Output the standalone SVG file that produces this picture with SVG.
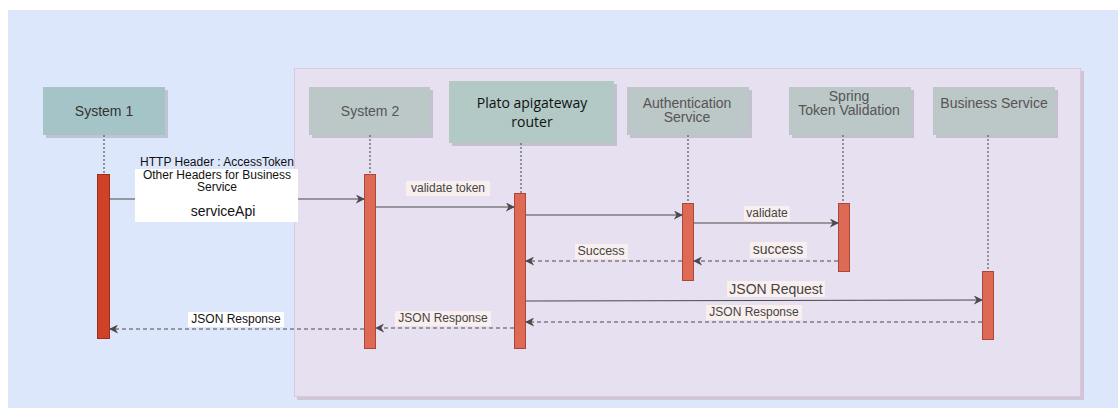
<svg xmlns="http://www.w3.org/2000/svg" width="1118" height="408" viewBox="0 0 1118 408">
<defs>
<style>
.shadow{fill:#9a9aa6;opacity:0.45}
.atext{font-family:"Liberation Sans",Arial,sans-serif;font-size:14px;fill:#555;text-anchor:middle}
.ptext{font-family:"Open Sans","Liberation Sans",sans-serif;font-size:14px;fill:#111;text-anchor:middle}
.life{stroke:#666;stroke-width:1.3;stroke-dasharray:2,2;fill:none}
.act{fill:#de6a56;stroke:#a8473a;stroke-width:1}
.msg{stroke:#4a4a4a;stroke-width:1.2;fill:none}
.ret{stroke:#4a4a4a;stroke-width:1.2;fill:none;stroke-dasharray:4,3}
.lbl{font-family:"Liberation Sans",Arial,sans-serif;font-size:12px;fill:#444;text-anchor:middle}
.lblbg{fill:#f9efee}
.ltext{font-family:"Liberation Sans",Arial,sans-serif;font-size:12px;fill:#111;text-anchor:middle}
</style>
<marker id="arr" viewBox="0 0 10 10" refX="9" refY="5" markerWidth="9" markerHeight="9" markerUnits="userSpaceOnUse" orient="auto">
<path d="M0,0 L10,5 L0,10 L3,5 Z" fill="#4a4a4a"/>
</marker>
</defs>
<rect x="0" y="0" width="1118" height="408" fill="#ffffff"/>
<rect x="8" y="10" width="1110" height="398" fill="#dce7fc"/>
<rect x="297" y="71" width="787" height="329" fill="#cfc4d8"/>
<rect x="294.5" y="68.5" width="786" height="328" fill="#e6e0f1" stroke="#dcc8dc" stroke-width="1"/>

<g id="system1">
<rect class="shadow" x="46" y="90" width="122" height="48"/>
<rect x="43" y="87" width="122" height="48" fill="#a4c4c8"/>
<text class="atext" x="104" y="116" style="fill:#333">System 1</text>
</g>
<g id="system2">
<rect class="shadow" x="312" y="90" width="121" height="48"/>
<rect x="309" y="87" width="121" height="48" fill="#bcc7c7"/>
<text class="atext" x="370" y="116">System 2</text>
</g>
<g id="plato">
<rect class="shadow" x="452" y="84" width="165" height="62"/>
<rect x="449" y="81" width="165" height="62" fill="#b2c9c6"/>
<text class="ptext" x="532" y="108">Plato apigateway</text>
<text class="ptext" x="532" y="127">router</text>
</g>
<g id="auth">
<rect class="shadow" x="630" y="90" width="122" height="48"/>
<rect x="627" y="87" width="122" height="48" fill="#bcc7c7"/>
<text class="atext" x="687" y="108">Authentication</text>
<text class="atext" x="687" y="122">Service</text>
</g>
<g id="spring">
<rect class="shadow" x="792" y="90" width="122" height="48"/>
<rect x="789" y="87" width="122" height="48" fill="#bcc7c7"/>
<text class="atext" x="849" y="101">Spring</text>
<text class="atext" x="849" y="115">Token Validation</text>
</g>
<g id="business">
<rect class="shadow" x="936" y="90" width="122" height="48"/>
<rect x="933" y="87" width="122" height="48" fill="#bcc7c7"/>
<text class="atext" x="994" y="108">Business Service</text>
</g>

<g id="lifelines">
<line class="life" x1="104" y1="135" x2="104" y2="174"/>
<line class="life" x1="370" y1="135" x2="370" y2="174"/>
<line class="life" x1="521" y1="143" x2="521" y2="193"/>
<line class="life" x1="688" y1="135" x2="688" y2="203"/>
<line class="life" x1="843" y1="135" x2="843" y2="203"/>
<line class="life" x1="988" y1="135" x2="988" y2="271"/>
</g>

<g id="activations">
<rect x="97.5" y="174.5" width="12" height="164" fill="#cf4227" stroke="#9a2f1c"/>
<rect class="act" x="364.5" y="174.5" width="11" height="174"/>
<rect class="act" x="514.5" y="193.5" width="11" height="155"/>
<rect class="act" x="682.5" y="203.5" width="11" height="77"/>
<rect class="act" x="838.5" y="203.5" width="11" height="68"/>
<rect class="act" x="982.5" y="271.5" width="11" height="68"/>
</g>

<g id="connectors">
<line class="msg" x1="110" y1="199" x2="364" y2="199" marker-end="url(#arr)"/>
<rect x="135" y="169" width="163" height="53" fill="#ffffff"/>
<text class="ltext" x="217" y="166">HTTP Header : AccessToken</text>
<text class="ltext" x="217" y="179">Other Headers for Business</text>
<text class="ltext" x="217" y="191">Service</text>
<text class="ltext" x="223" y="216" style="font-size:14px">serviceApi</text>

<line class="msg" x1="376" y1="207" x2="514" y2="207" marker-end="url(#arr)"/>
<rect class="lblbg" x="406" y="181" width="84" height="15"/>
<text class="lbl" x="448" y="192">validate token</text>

<line class="msg" x1="526" y1="215" x2="682" y2="215" marker-end="url(#arr)"/>

<line class="msg" x1="694" y1="223" x2="838" y2="223" marker-end="url(#arr)"/>
<rect class="lblbg" x="744" y="206" width="46" height="15"/>
<text class="lbl" x="767" y="217">validate</text>

<line class="ret" x1="838" y1="261" x2="694" y2="261" marker-end="url(#arr)"/>
<rect class="lblbg" x="750" y="242" width="57" height="16"/>
<text class="lbl" x="778" y="254" style="font-size:14px">success</text>

<line class="ret" x1="682" y1="261" x2="526" y2="261" marker-end="url(#arr)"/>
<rect class="lblbg" x="575" y="244" width="53" height="15"/>
<text class="lbl" x="601" y="255" style="font-size:12.5px">Success</text>

<line class="msg" x1="526" y1="301" x2="982" y2="300" marker-end="url(#arr)"/>
<rect class="lblbg" x="727" y="281" width="98" height="16"/>
<text class="lbl" x="776" y="294" style="font-size:14px">JSON Request</text>

<line class="ret" x1="982" y1="322" x2="526" y2="322" marker-end="url(#arr)"/>
<rect class="lblbg" x="706" y="305" width="96" height="15"/>
<text class="lbl" x="754" y="316">JSON Response</text>

<line class="ret" x1="514" y1="328" x2="376" y2="328" marker-end="url(#arr)"/>
<rect class="lblbg" x="395" y="311" width="96" height="15"/>
<text class="lbl" x="443" y="322">JSON Response</text>

<line class="ret" x1="364" y1="329" x2="110" y2="329" marker-end="url(#arr)"/>
<rect x="188" y="312" width="96" height="15" fill="#ffffff"/>
<text class="lbl" x="236" y="323" style="fill:#111">JSON Response</text>
</g>
</svg>
